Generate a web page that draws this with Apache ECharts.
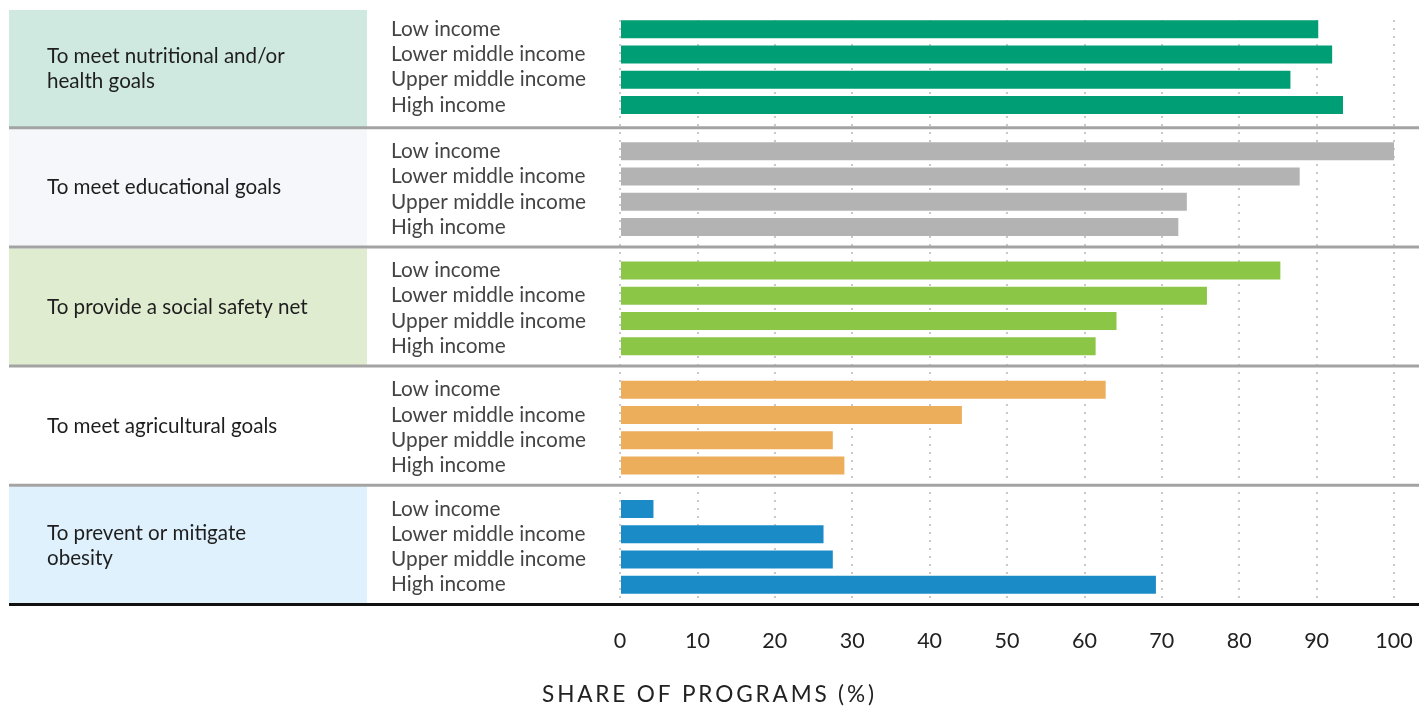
<!DOCTYPE html>
<html>
<head>
<meta charset="utf-8">
<script src="https://cdn.jsdelivr.net/npm/echarts@6/dist/echarts.min.js"></script>
<style>
  html, body { margin: 0; padding: 0; background: #fff; }
  #chart { width: 1419px; height: 708px; }
</style>
</head>
<body>
<div id="chart"></div>
<script>
const incomes = ['Low income', 'Lower middle income', 'Upper middle income', 'High income'];
const goals = [
  'To meet nutritional and/or\nhealth goals',
  'To meet educational goals',
  'To provide a social safety net',
  'To meet agricultural goals',
  'To prevent or mitigate\nobesity'
];

// share of programs (%) per income group
const nutritional = [90.2, 92.0, 86.6, 93.4];
const educational = [100, 87.8, 73.2, 72.1];
const safetyNet = [85.3, 75.8, 64.1, 61.4];
const agricultural = [62.7, 44.1, 27.4, 28.9];
const obesity = [4.2, 26.2, 27.4, 69.2];

const xTicks = [0, 10, 20, 30, 40, 50, 60, 70, 80, 90, 100];
const axisTitle = 'SHARE OF PROGRAMS (%)';

const groupValues = [nutritional, educational, safetyNet, agricultural, obesity];
const barColors = ['#009e74', '#b3b3b3', '#8cc647', '#edae5b', '#1b8bc7'];
const boxColors = ['#cfe9e1', '#f5f7fa', '#e0ecd0', '#ffffff', '#dff1fc'];

const FONT = 'Lato, "Noto Sans", sans-serif';
const plotLeft = 621;
const plotRight = 25;
const bandTop0 = 10;
const bandStep = 119.2;
const barPad = [6.5, 9.5, 9.5, 9.5, 9.5]; // first block sits a bit higher

const grids = [];
const xAxes = [];
const yAxes = [];
const series = [];
const graphics = [];

groupValues.forEach((vals, i) => {
  const top = bandTop0 + i * bandStep;
  grids.push({ left: plotLeft, right: plotRight, top: top + barPad[i], height: 101 });
  xAxes.push({ gridIndex: i, type: 'value', min: 0, max: 100, show: false });
  yAxes.push({
    gridIndex: i,
    type: 'category',
    inverse: true,
    data: incomes,
    axisLine: { show: false },
    axisTick: { show: false },
    axisLabel: {
      interval: 0,
      hideOverlap: false,
      align: 'left',
      margin: plotLeft - 391,
      fontFamily: FONT,
      fontSize: 20.8,
      color: '#444'
    }
  });
  series.push({
    type: 'bar',
    xAxisIndex: i,
    yAxisIndex: i,
    data: vals,
    barWidth: 18,
    itemStyle: { color: barColors[i] },
    silent: true,
    z: 3
  });

  // left panel box + goal label
  graphics.push({
    type: 'rect',
    z: -1,
    shape: { x: 9, y: top, width: 358, height: bandStep - 2 },
    style: { fill: boxColors[i] }
  });
  graphics.push({
    type: 'text',
    z: 5,
    x: 47,
    y: top + (bandStep - 2) / 2,
    style: {
      text: goals[i],
      font: '20.6px ' + FONT,
      fill: '#1e1e1e',
      verticalAlign: 'middle',
      lineHeight: 25
    }
  });
  if (i > 0) {
    graphics.push({
      type: 'line',
      z: 10,
      shape: { x1: 9, y1: top - 1.5, x2: 1419, y2: top - 1.5 },
      style: { stroke: '#a3a3a3', lineWidth: 3 }
    });
  }
});

// background grid carrying the dotted lines and the tick labels
const bottomY = bandTop0 + 5 * bandStep - 1.5;
grids.push({ left: plotLeft - 1, right: plotRight, top: 20, height: bottomY - 20 });
xAxes.push({
  gridIndex: 5,
  type: 'value',
  min: xTicks[0],
  max: xTicks[xTicks.length - 1],
  interval: 10,
  axisLine: { show: false },
  axisTick: { show: false },
  splitLine: { show: true, lineStyle: { color: '#c9c9c9', width: 2, type: [2, 6] } },
  axisLabel: { margin: 26, fontFamily: FONT, fontSize: 21.5, color: '#222' }
});
yAxes.push({ gridIndex: 5, type: 'value', show: false });

graphics.push({
  type: 'line',
  z: 10,
  shape: { x1: 9, y1: bottomY, x2: 1419, y2: bottomY },
  style: { stroke: '#111', lineWidth: 3 }
});
graphics.push({
  type: 'text',
  z: 5,
  x: 708,
  y: 695,
  style: {
    text: axisTitle.split('').join('\u2009'),
    font: '22.6px ' + FONT,
    fill: '#222',
    align: 'center',
    verticalAlign: 'middle'
  }
});

const chart = echarts.init(document.getElementById('chart'));
chart.setOption({
  animation: false,
  grid: grids,
  xAxis: xAxes,
  yAxis: yAxes,
  series: series,
  graphic: { elements: graphics }
});
</script>
</body>
</html>
